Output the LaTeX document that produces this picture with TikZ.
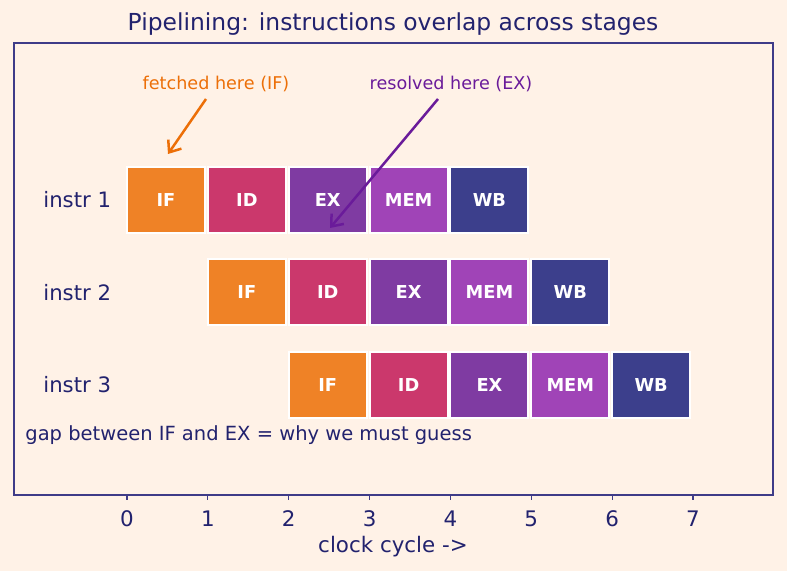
\documentclass[tikz,border=0pt]{standalone}
\usepackage{fontspec}
\setmainfont{DejaVu Sans}
\usetikzlibrary{arrows.meta}
\definecolor{bgc}{HTML}{FFF2E7}
\definecolor{navy}{HTML}{22226E}
\definecolor{frame}{HTML}{3F3C88}
\definecolor{cIF}{HTML}{EF8226}
\definecolor{cID}{HTML}{CB386C}
\definecolor{cEX}{HTML}{7F3BA2}
\definecolor{cMEM}{HTML}{A044B7}
\definecolor{cWB}{HTML}{3C3F8C}
\definecolor{annO}{HTML}{EC6F08}
\definecolor{annP}{HTML}{6A1B9A}
\tikzset{
  stagebox/.style={draw=white, line width=1pt, minimum width=39pt, minimum height=33pt, inner sep=0pt, text=white, font=\fontsize{8.9}{10}\selectfont\bfseries},
  rowlabel/.style={text=navy, font=\fontsize{10.6}{12}\selectfont, anchor=west, inner sep=0pt},
  ticklabel/.style={text=navy, font=\fontsize{10.7}{12}\selectfont, inner sep=0pt},
  annot/.style={font=\fontsize{8.8}{10}\selectfont, inner sep=0pt},
  arr/.style={line width=1.25pt, -{Straight Barb[length=5pt,width=8pt]}}
}
\begin{document}
\begin{tikzpicture}[x=0.5pt,y=-0.5pt]
\fill[bgc] (0,0) rectangle (787,571);
\useasboundingbox (0,0) rectangle (787,571);
% title
\node[text=navy, font=\fontsize{11.7}{14}\selectfont, inner sep=0pt] (title) at (393,24) {Pipelining: instructions overlap across stages};
% frame
\draw[frame, line width=0.6pt] (14,43) rectangle (773,495);
% ticks
\foreach \c in {0,...,7} {
  \draw[frame, line width=0.6pt] ({127+80.86*\c},495) -- ({127+80.86*\c},500);
  \node[ticklabel] (tick\c) at ({127+80.86*\c},519) {\c};
}
\node[text=navy, font=\fontsize{10.7}{12}\selectfont, inner sep=0pt] (xlabel) at (393,547) {clock cycle ->};
% row labels
\node[rowlabel] (lab1) at (43,200) {instr 1};
\node[rowlabel] (lab2) at (43,292.5) {instr 2};
\node[rowlabel] (lab3) at (43,385) {instr 3};
% stages
\foreach \r/\yy in {0/200,1/292.5,2/385} {
  \foreach \s/\nm in {0/IF,1/ID,2/EX,3/MEM,4/WB} {
    \pgfmathsetmacro{\cc}{\r+\s}
    \node[stagebox, fill=c\nm] (r\r s\s) at ({166+80.86*\cc},\yy) {\nm};
  }
}
% note
\node[text=navy, font=\fontsize{9.75}{12}\selectfont, anchor=west, inner sep=0pt] (gap) at (25,435) {gap between IF and EX = why we must guess};
% annotations
\node[annot, text=annO] (fetch) at (216,84) {fetched here (IF)};
\node[annot, text=annP] (resolv) at (451,84) {resolved here (EX)};
\coordinate (fs) at (206,99);
\coordinate (ft) at (168,154);
\coordinate (rs) at (438,99);
\coordinate (rt) at (330,228);
\draw[arr, annO] (fs) -- (ft);
\draw[arr, annP] (rs) -- (rt);
\end{tikzpicture}
\end{document}
